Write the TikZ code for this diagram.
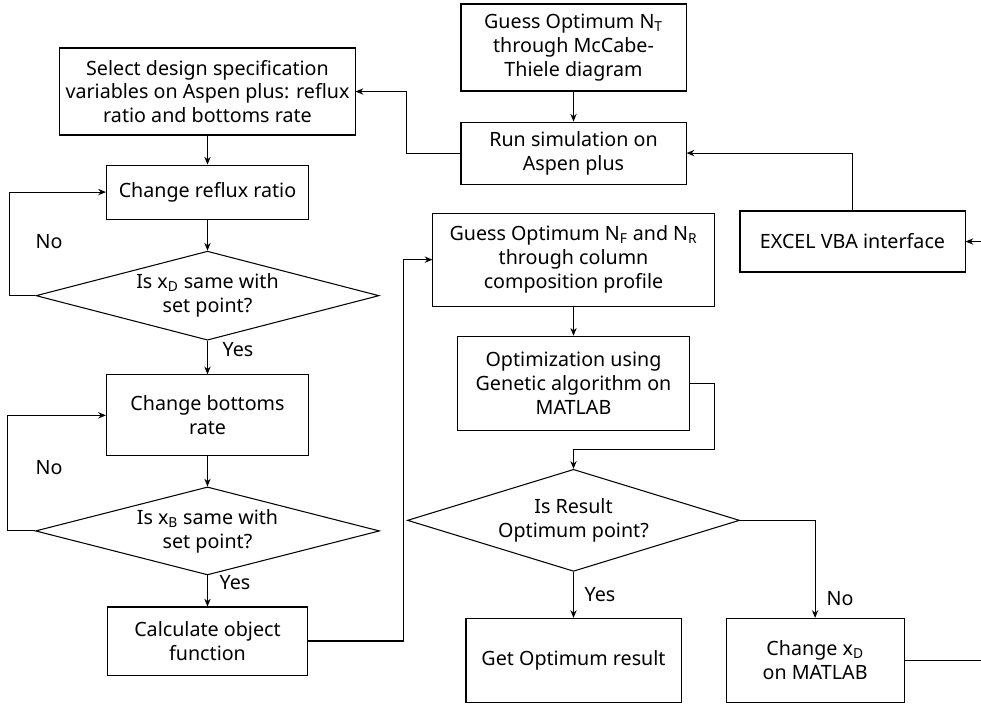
\documentclass[tikz,border=0pt]{standalone}
\usepackage{fontspec}
\setmainfont{Noto Sans}
\usetikzlibrary{positioning, shapes.geometric, arrows.meta}

\begin{document}
\begin{tikzpicture}[
        x=0.025cm, y=-0.025cm,
        font=\fontsize{14pt}{17pt}\selectfont,
        line width=0.75pt,
        >={Stealth[length=5.5pt, width=4.5pt]},
        box/.style={draw, align=center, inner sep=1pt},
        decision/.style={draw, diamond, aspect=3.8, align=center, inner sep=0pt},
        answer/.style={inner sep=0pt}
    ]
        \newcommand{\arr}{edge[->]}
        \useasboundingbox (0,0) rectangle (981,704);
        \clip (0,0) rectangle (981,704);

        % left column
        \node[box, minimum width=7.375cm, minimum height=2.175cm] (select) at (207.5,91.5) {Select design specification\\variables on Aspen plus: reflux\\ratio and bottoms rate};
        \node[box, minimum width=5.05cm, minimum height=1.35cm, below=0.725cm of select] (reflux) {Change reflux ratio};
        \node[decision, minimum width=8.575cm, minimum height=2.225cm, below=0.775cm of reflux] (dec1) {Is x\textsubscript{D} same with\\set point?};
        \node[box, minimum width=5.05cm, minimum height=2.025cm, below=0.84cm of dec1] (bottoms) {Change bottoms\\rate};
        \node[decision, minimum width=8.6cm, minimum height=2.2cm, below=0.75cm of bottoms] (dec2) {Is x\textsubscript{B} same with\\set point?};
        \node[box, minimum width=5.0cm, minimum height=1.7cm, below=0.775cm of dec2] (calc) {Calculate object\\function};

        % right column
        \node[box, minimum width=5.625cm, minimum height=2.175cm] (nt) at (573.5,47.5) {Guess Optimum N\textsubscript{T}\\through McCabe-\\Thiele diagram};
        \node[box, minimum width=5.625cm, minimum height=1.55cm, below=0.75cm of nt] (runsim) {Run simulation on\\Aspen plus};
        \node[box, minimum width=7.025cm, minimum height=2.325cm, below=0.7cm of runsim] (nfnr) {Guess Optimum N\textsubscript{F} and N\textsubscript{R}\\through column\\composition profile};
        \node[box, minimum width=5.8cm, minimum height=2.35cm, below=0.725cm of nfnr] (optga) {Optimization using\\Genetic algorithm on\\MATLAB};
        \node[decision, minimum width=8.3cm, minimum height=2.55cm, below=0.95cm of optga] (decres) {Is Result\\Optimum point?};
        \node[box, minimum width=5.375cm, minimum height=2.1cm, below=1.15cm of decres] (getopt) {Get Optimum result};
        \node[box, minimum width=4.45cm, minimum height=2.1cm, right=1.1cm of getopt] (chgxd) {Change x\textsubscript{D}\\on MATLAB};
        \node[box, minimum width=5.625cm, minimum height=1.525cm] (excel) at (852.5,241.5) {EXCEL VBA interface};
        \coordinate (offright) at (1000,450);

        % Yes / No
        \node[answer] (no1) at (49,242) {No};
        \node[answer] (yes1) at (238,350) {Yes};
        \node[answer] (no2) at (49,468) {No};
        \node[answer] (yes2) at (235,583) {Yes};
        \node[answer] (yes3) at (600,595) {Yes};
        \node[answer] (no3) at (840,599) {No};

        \draw[->]
            (select) \arr (reflux)
            (reflux) \arr (dec1)
            (dec1) \arr (bottoms)
            (bottoms) \arr (dec2)
            (dec2) \arr (calc)
            (nt) \arr (runsim)
            (nfnr) \arr (optga)
            (decres) \arr (getopt)
            ;
        \draw[->] (dec1.west) -- ++(-26,0) |- (reflux.west);
        \draw[->] (dec2.west) -- ++(-27,0) |- (bottoms.west);
        \draw[->] (calc.east) -- ++(95,0) |- (nfnr.west);
        \draw[->] (runsim.west) -- ++(-54,0) |- (select.east);
        \draw[->] (excel.north) |- (runsim.east);
        \draw[->] (optga.east) -- ++(24,0) -- ++(0,66) -| (decres.north);
        \draw[->] (decres.east) -| (chgxd.north);
        \draw[->] (chgxd.east) -| (offright) |- (excel.east);
    \end{tikzpicture}
\end{document}
